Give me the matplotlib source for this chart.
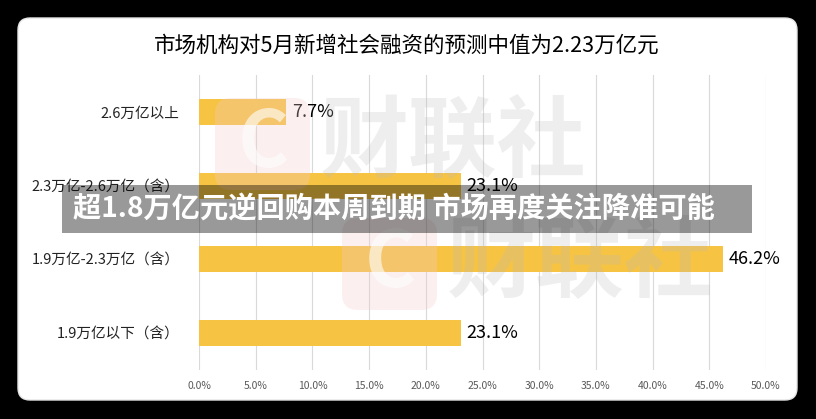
import matplotlib
matplotlib.use('Agg')
import matplotlib.pyplot as plt
from matplotlib.patches import FancyBboxPatch

plt.rcParams['font.family'] = ['Noto Sans CJK SC', 'DejaVu Sans']

title = '市场机构对5月新增社会融资的预测中值为2.23万亿元'
banner = '超1.8万亿元逆回购本周到期 市场再度关注降准可能'
categories = ['2.6万亿以上', '2.3万亿-2.6万亿（含）', '1.9万亿-2.3万亿（含）', '1.9万亿以下（含）']
shares = [7.7, 23.1, 46.2, 23.1]
value_labels = ['7.7%', '23.1%', '46.2%', '23.1%']
xticks = [0, 5, 10, 15, 20, 25, 30, 35, 40, 45, 50]
xtick_labels = ['0.0%', '5.0%', '10.0%', '15.0%', '20.0%', '25.0%',
                '30.0%', '35.0%', '40.0%', '45.0%', '50.0%']

W, H = 816, 419


def add_background(fig):
    # white card with rounded corners on black, in pixel coords
    card = FancyBboxPatch((18, 19), 779, 382, boxstyle='round,pad=0,rounding_size=12',
                          transform=None, facecolor='white', edgecolor='#e6e6e6',
                          linewidth=1.0, zorder=-1)
    fig.patches.append(card)


def add_watermark(fig, x, y):
    # faint "C 财联社" logo, x/y = lower-left of the pink square in pixels
    logo = FancyBboxPatch((x, y), 95, 92, boxstyle='round,pad=0,rounding_size=16',
                          transform=None, facecolor='#f3cccc', edgecolor='none',
                          alpha=0.3, zorder=3)
    fig.patches.append(logo)
    fig.text((x + 48) / W, (y + 46) / H, 'C', color='white', alpha=0.6,
             fontsize=56, fontweight='bold', ha='center', va='center', zorder=3)
    fig.text((x + 105) / W, (y + 46) / H, '财联社', color='#bdbdbd', alpha=0.25,
             fontsize=64, fontweight='bold', ha='left', va='center', zorder=3)


def draw_chart():
    fig = plt.figure(figsize=(W / 100, H / 100), dpi=100, facecolor='black')
    add_background(fig)

    ax = fig.add_axes([199 / W, 1 - 370 / H, 567 / W, 295 / H])
    ax.set_facecolor('none')

    y = list(range(len(categories)))
    ax.barh(y, shares, height=0.35, color='#f6c343', zorder=2)
    for yi, v, lab in zip(y, shares, value_labels):
        ax.annotate(lab, (v, yi), xytext=(4, 0), textcoords='offset points',
                    ha='left', va='center', fontsize=13, fontweight='medium',
                    color='black', zorder=4)

    ax.set_ylim(len(categories) - 0.5, -0.5)
    ax.set_yticks(y)
    ax.set_yticklabels(categories, fontsize=10.5, color='#222222')
    ax.set_xlim(0, 50)
    ax.set_xticks(xticks)
    ax.set_xticklabels(xtick_labels, fontsize=7.5, color='#595959')
    ax.tick_params(axis='both', length=0)
    ax.tick_params(axis='y', pad=14)
    ax.tick_params(axis='x', pad=8)
    ax.grid(axis='x', color='#d9d9d9', linewidth=0.8, zorder=0)
    ax.set_axisbelow(True)
    for s in ax.spines.values():
        s.set_visible(False)

    fig.text(407 / W, 1 - 46 / H, title, ha='center', va='center', fontsize=15.5, color='black')

    add_watermark(fig, 215, H - 190)
    add_watermark(fig, 342, H - 310)

    # grey overlay banner with headline
    band = FancyBboxPatch((62, H - 233), 690, 48, boxstyle='square,pad=0', transform=None,
                          facecolor='black', alpha=0.4, edgecolor='none', zorder=5)
    fig.patches.append(band)
    fig.text(394 / W, 1 - 209 / H, banner, ha='center', va='center', fontsize=20.3,
             fontweight='bold', color='white', zorder=6)

    fig.savefig('out.png', dpi=100, facecolor='black')


if __name__ == "__main__":
    draw_chart()
